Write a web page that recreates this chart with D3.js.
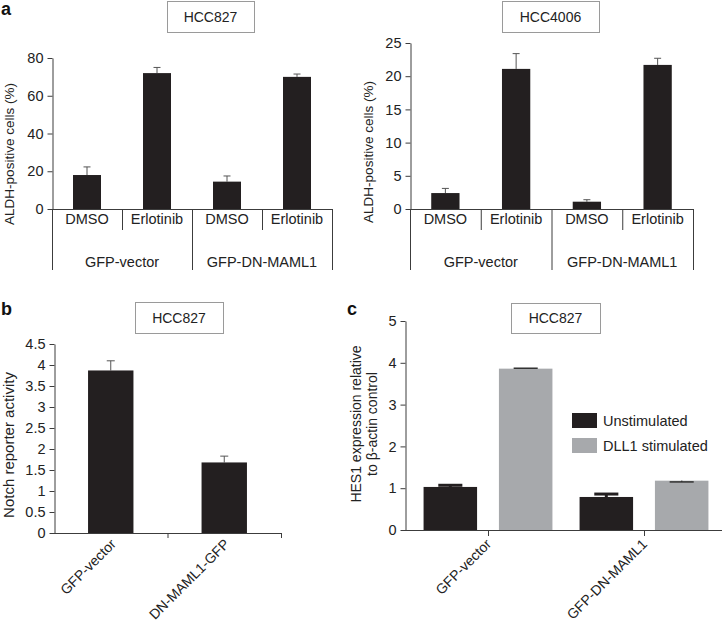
<!DOCTYPE html>
<html lang="en">
<head>
<meta charset="utf-8">
<title>ALDH / Notch figure</title>
<script src="https://cdn.jsdelivr.net/npm/d3@7"></script>
<style>
body { margin: 0; background: #fff; }
svg { font-family: "Liberation Sans", Arial, sans-serif; }
</style>
</head>
<body>
<script>
// ---- data ----
var groups = ["GFP-vector", "GFP-DN-MAML1"];
var treatments = ["DMSO", "Erlotinib"];

var hcc827Vals = [18, 72, 14.5, 70];      // panel a, left
var hcc827Err  = [4.3, 3, 3, 1.5];
var hcc827Ticks = [0, 20, 40, 60, 80];

var hcc4006Vals = [2.4, 21.1, 1.1, 21.7]; // panel a, right
var hcc4006Err  = [0.7, 2.3, 0.3, 1.0];
var hcc4006Ticks = [0, 5, 10, 15, 20, 25];

var notchCats = ["GFP-vector", "DN-MAML1-GFP"]; // panel b
var notchVals = [3.87, 1.68];
var notchErr  = [0.23, 0.15];
var notchTicks = [0, 0.5, 1, 1.5, 2, 2.5, 3, 3.5, 4, 4.5];

var hesCats = ["GFP-vector", "GFP-DN-MAML1"];   // panel c
var hesSeries = ["Unstimulated", "DLL1 stimulated"];
var unstimVals = [1.03, 0.79];
var unstimErr  = [0.04, 0.07];
var dllVals = [3.86, 1.18];
var dllErr  = [0.01, -0.03];
var hesTicks = [0, 1, 2, 3, 4, 5];

var dark = "#231f20", grey = "#a7a9ac", axisCol = "#3c3c3c", txt = "#222";

var svg = d3.select("body").append("svg").attr("width", 722).attr("height", 628);

function panelLabel(t, x, y) {
    svg.append("text").attr("x", x).attr("y", y).text(t)
        .attr("font-size", 18).attr("font-weight", "bold").attr("fill", "#111");
}
function titleBox(t, x0, y0, x1, y1) {
    svg.append("rect").attr("x", x0 + 0.5).attr("y", y0 + 0.5)
        .attr("width", x1 - x0).attr("height", y1 - y0)
        .attr("fill", "#fff").attr("stroke", "#9a9a9a");
    svg.append("text").attr("x", (x0 + x1) / 2).attr("y", (y0 + y1) / 2)
        .attr("text-anchor", "middle").attr("dominant-baseline", "central")
        .attr("font-size", 14).attr("fill", txt).text(t);
}
function yTitle(lines, x, y, gap, size) {
    lines.forEach(function(l, i) {
        svg.append("text").attr("transform", "translate(" + (x + i * gap) + "," + y + ") rotate(-90)")
            .attr("text-anchor", "middle").attr("dominant-baseline", "central")
            .attr("font-size", size).attr("fill", txt).text(l);
    });
}
function yAxis(y, x, ticks) {
    var g = svg.append("g").attr("transform", "translate(" + x + ",0)")
        .call(d3.axisLeft(y).tickValues(ticks).tickFormat(d3.format("~g"))
            .tickSize(5).tickSizeOuter(0).tickPadding(4));
    g.selectAll("path,line").attr("stroke", axisCol);
    g.selectAll("text").attr("font-size", 14.5).attr("fill", txt).attr("font-family", null);
    return g;
}
function errBar(g, cx, top, base, capW, col, w) {
    g.append("line").attr("x1", cx).attr("x2", cx).attr("y1", base).attr("y2", top)
        .attr("stroke", col).attr("stroke-width", w || 1);
    g.append("line").attr("x1", cx - capW / 2).attr("x2", cx + capW / 2).attr("y1", top).attr("y2", top)
        .attr("stroke", col).attr("stroke-width", w || 1);
}

// ---- panel a: two grouped category charts ----
function aldhPanel(vals, errs, ticks, x0, x1, yTop) {
    var cells = [];
    groups.forEach(function(g) { treatments.forEach(function(t) { cells.push(g + "|" + t); }); });
    var x = d3.scaleBand().domain(cells).range([x0, x1]);
    var y = d3.scaleLinear().domain([0, d3.max(ticks)]).range([209, yTop]);
    var bw = x.bandwidth() * 0.4;
    var g = svg.append("g");
    cells.forEach(function(c, i) {
        var cx = x(c) + x.bandwidth() / 2;
        errBar(g, cx, y(vals[i] + errs[i]), y(vals[i]), 7, "#555");
        g.append("rect").attr("x", cx - bw / 2).attr("y", y(vals[i]))
            .attr("width", bw).attr("height", y(0) - y(vals[i])).attr("fill", dark);
        g.append("text").attr("x", cx).attr("y", 219).attr("text-anchor", "middle")
            .attr("dominant-baseline", "central").attr("font-size", 14.5).attr("fill", txt)
            .text(c.split("|")[1]);
        // divider between treatments inside a group
        if (i % 2 === 1) {
            g.append("line").attr("x1", x(c) + 0.5).attr("x2", x(c) + 0.5).attr("y1", 209).attr("y2", 230)
                .attr("stroke", axisCol);
        }
    });
    // group dividers
    [x0, x(cells[2]), x1].forEach(function(v) {
        g.append("line").attr("x1", v + 0.5).attr("x2", v + 0.5).attr("y1", 209).attr("y2", 270)
            .attr("stroke", axisCol);
    });
    groups.forEach(function(gr, k) {
        var a = x(cells[k * 2]), b = x(cells[k * 2 + 1]) + x.bandwidth();
        g.append("text").attr("x", (a + b) / 2).attr("y", 262).attr("text-anchor", "middle")
            .attr("dominant-baseline", "central").attr("font-size", 14.5).attr("fill", txt).text(gr);
    });
    g.append("line").attr("x1", x0).attr("x2", x1).attr("y1", 209.5).attr("y2", 209.5).attr("stroke", axisCol);
    yAxis(y, x0 + 0.5, ticks);
}

panelLabel("a", 1, 15);
titleBox("HCC827", 167, 1, 254, 32);
titleBox("HCC4006", 502, 1, 599, 32);
aldhPanel(hcc827Vals, hcc827Err, hcc827Ticks, 52, 332, 58);
aldhPanel(hcc4006Vals, hcc4006Err, hcc4006Ticks, 410, 693, 43);
yTitle(["ALDH-positive cells (%)"], 9, 154, 0, 13.5);
yTitle(["ALDH-positive cells (%)"], 368, 152, 0, 13.5);

// ---- panel b ----
panelLabel("b", 1, 315);
titleBox("HCC827", 135, 302, 223, 333);
(function() {
    var x = d3.scaleBand().domain(notchCats).range([54, 281]);
    var y = d3.scaleLinear().domain([0, 4.5]).range([533, 344]);
    var bw = x.bandwidth() * 0.4;
    var g = svg.append("g");
    notchCats.forEach(function(c, i) {
        var cx = x(c) + x.bandwidth() / 2;
        errBar(g, cx, y(notchVals[i] + notchErr[i]), y(notchVals[i]), 8, "#555");
        g.append("rect").attr("x", cx - bw / 2).attr("y", y(notchVals[i]))
            .attr("width", bw).attr("height", y(0) - y(notchVals[i])).attr("fill", dark);
        g.append("text").attr("transform", "translate(" + (cx + 6) + ",545) rotate(-45)")
            .attr("text-anchor", "end").attr("font-size", 14).attr("fill", txt).text(c);
        g.append("line").attr("x1", x(c) + x.bandwidth() + 0.5).attr("x2", x(c) + x.bandwidth() + 0.5)
            .attr("y1", 533).attr("y2", 538).attr("stroke", axisCol);
    });
    g.append("line").attr("x1", 54).attr("x2", 281).attr("y1", 533.5).attr("y2", 533.5).attr("stroke", axisCol);
    yAxis(y, 54.5, notchTicks);
})();
yTitle(["Notch reporter activity"], 8, 445, 0, 15);

// ---- panel c ----
panelLabel("c", 347, 315);
titleBox("HCC827", 511, 303, 600, 333);
(function() {
    var x = d3.scaleBand().domain(hesCats).range([410, 722]);
    var xs = d3.scaleBand().domain(hesSeries).range([0, x.bandwidth()]).paddingInner(0.29).paddingOuter(0.18);
    var y = d3.scaleLinear().domain([0, 5]).range([530, 321]);
    var g = svg.append("g");
    var sets = [[unstimVals, unstimErr, dark], [dllVals, dllErr, grey]];
    hesCats.forEach(function(c, i) {
        hesSeries.forEach(function(s, k) {
            var v = sets[k][0][i], e = sets[k][1][i];
            var bx = x(c) + xs(s), cx = bx + xs.bandwidth() / 2;
            g.append("rect").attr("x", bx).attr("y", y(v)).attr("width", xs.bandwidth())
                .attr("height", y(0) - y(v)).attr("fill", sets[k][2]);
            errBar(g, cx, y(v + e), y(v), xs.bandwidth() * 0.45, k === 0 ? dark : "#333", k === 0 ? 3 : 1.5);
        });
        var tx = x(c) + x.bandwidth() / 2;
        g.append("line").attr("x1", tx + 0.5).attr("x2", tx + 0.5).attr("y1", 530).attr("y2", 536).attr("stroke", axisCol);
        g.append("text").attr("transform", "translate(" + (tx + 4) + ",545) rotate(-45)")
            .attr("text-anchor", "end").attr("font-size", 14).attr("fill", txt).text(c);
    });
    g.append("line").attr("x1", 405).attr("x2", 722).attr("y1", 530.5).attr("y2", 530.5).attr("stroke", axisCol);
    yAxis(y, 405.5, hesTicks);

    var leg = svg.append("g").attr("transform", "translate(572,413)");
    hesSeries.forEach(function(s, k) {
        leg.append("rect").attr("x", 0).attr("y", k * 25).attr("width", 25).attr("height", 15)
            .attr("fill", sets[k][2]);
        leg.append("text").attr("x", 31).attr("y", k * 25 + 7.5).attr("dominant-baseline", "central")
            .attr("font-size", 14.5).attr("fill", txt).text(s);
    });
})();
yTitle(["HES1 expression relative", "to \u03b2-actin control"], 356, 424, 16, 14);
</script>
</body>
</html>
